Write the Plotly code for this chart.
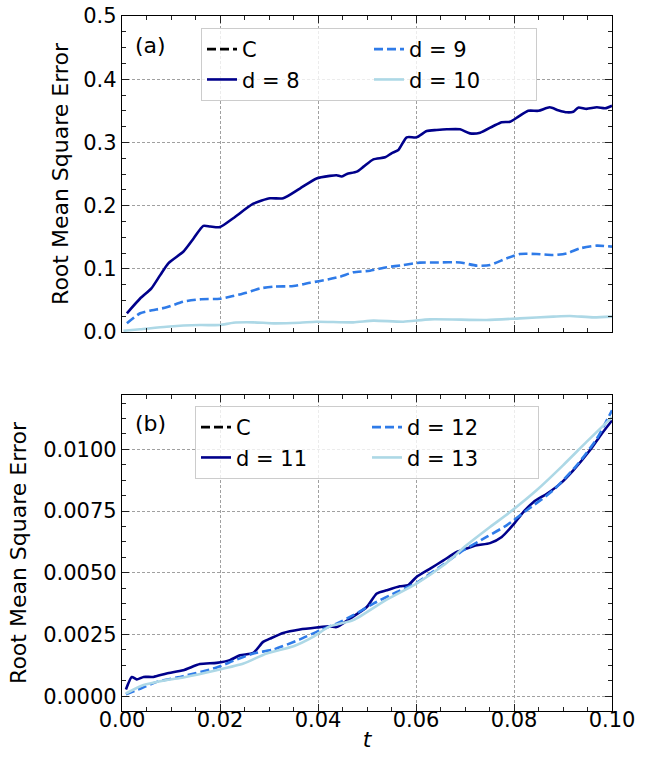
import plotly.graph_objects as go

# ---------------- data: panel (a) ----------------
t_d8 = [0.001, 0.0037, 0.006, 0.0078, 0.0095, 0.0125, 0.0146, 0.0166, 0.018, 0.020, 0.0227, 0.0268,
        0.0302, 0.0329, 0.0363, 0.0397, 0.0424, 0.0438, 0.0448, 0.0459, 0.0479, 0.0493, 0.0513, 0.0537,
        0.055, 0.0564, 0.0581, 0.0601, 0.0622, 0.0642, 0.0663, 0.069, 0.071, 0.0731, 0.0758, 0.0775,
        0.0792, 0.0809, 0.0829, 0.085, 0.0873, 0.089, 0.0908, 0.0921, 0.0931, 0.0948, 0.0969, 0.0986, 0.1]
y_d8 = [0.0296, 0.053, 0.069, 0.090, 0.109, 0.127, 0.148, 0.168, 0.167, 0.166, 0.180, 0.203,
        0.2115, 0.2115, 0.227, 0.243, 0.247, 0.248, 0.246, 0.250, 0.2537, 0.2616, 0.2732, 0.2764,
        0.2827, 0.288, 0.308, 0.308, 0.318, 0.3196, 0.3207, 0.3207, 0.3143, 0.3154, 0.326, 0.332,
        0.3328, 0.3407, 0.350, 0.350, 0.3555, 0.351, 0.3476, 0.3486, 0.355, 0.353, 0.3555, 0.354, 0.358]

t_d9 = [0.001, 0.0037, 0.0057, 0.0091, 0.0125, 0.0159, 0.020, 0.0227, 0.0254, 0.0282, 0.0309, 0.035,
        0.0384, 0.0420, 0.0445, 0.0472, 0.0506, 0.054, 0.0574, 0.0608, 0.0642, 0.069, 0.0724, 0.0751,
        0.0785, 0.0812, 0.0846, 0.088, 0.0908, 0.0935, 0.0969, 0.1]
y_d9 = [0.0138, 0.0296, 0.0337, 0.039, 0.048, 0.0517, 0.0527, 0.057, 0.0622, 0.069, 0.0717, 0.0728,
        0.078, 0.083, 0.0875, 0.0945, 0.097, 0.1024, 0.106, 0.1097, 0.110, 0.110, 0.105, 0.106,
        0.1166, 0.1234, 0.1234, 0.1218, 0.1245, 0.1324, 0.1366, 0.135]

t_d10 = [0.0003, 0.0037, 0.0091, 0.0159, 0.020, 0.0227, 0.0268, 0.0309, 0.0363, 0.0397, 0.0472, 0.0513,
         0.0574, 0.0629, 0.0744, 0.0812, 0.088, 0.0914, 0.0962, 0.1]
y_d10 = [0.002, 0.0043, 0.0084, 0.011, 0.011, 0.0147, 0.0153, 0.0137, 0.0147, 0.0163, 0.0153, 0.018,
         0.0163, 0.020, 0.019, 0.0216, 0.0243, 0.0253, 0.0232, 0.0243]

# ---------------- data: panel (b) ----------------
t_d11 = [0.0008, 0.002, 0.003, 0.0044, 0.0064, 0.0091, 0.0125, 0.0159, 0.0193, 0.022, 0.0241, 0.0268,
         0.0288, 0.0302, 0.0329, 0.0363, 0.0397, 0.0424, 0.0438, 0.0465, 0.0499, 0.052, 0.054, 0.0567,
         0.0584, 0.0601, 0.0629, 0.0656, 0.0683, 0.0703, 0.0724, 0.0751, 0.0775, 0.0799, 0.0819, 0.084,
         0.0867, 0.0894, 0.0921, 0.0955, 0.0979, 0.1]
y_d11 = [0.00027, 0.00078, 0.00068, 0.00078, 0.00078, 0.00092, 0.00105, 0.0013, 0.00135, 0.00146, 0.00166, 0.00175,
         0.0022, 0.00233, 0.00256, 0.0027, 0.00278, 0.00283, 0.0028, 0.00314, 0.0036, 0.00416, 0.00429, 0.00445,
         0.0045, 0.00483, 0.00517, 0.0055, 0.00584, 0.00598, 0.00611, 0.0062, 0.00645, 0.00696, 0.00746, 0.00787,
         0.0082, 0.0086, 0.00915, 0.00996, 0.01063, 0.01117]

t_d12 = [0.0008, 0.0037, 0.0071, 0.0125, 0.0193, 0.0227, 0.0268, 0.0309, 0.0363, 0.0404, 0.0438, 0.0472,
         0.0513, 0.0561, 0.0601, 0.0649, 0.0697, 0.0744, 0.0785, 0.0826, 0.088, 0.0928, 0.0969, 0.1]
y_d12 = [0.00008, 0.0003, 0.00058, 0.00081, 0.00116, 0.00143, 0.00173, 0.00189, 0.0023, 0.00267, 0.00294, 0.00328,
         0.00375, 0.00422, 0.00459, 0.00524, 0.00591, 0.00645, 0.00692, 0.00753, 0.00834, 0.00935, 0.01043, 0.01158]

t_d13 = [0.0008, 0.0044, 0.0091, 0.0125, 0.0193, 0.0248, 0.0295, 0.035, 0.039, 0.0424, 0.0472, 0.054,
         0.0601, 0.0656, 0.0703, 0.0751, 0.0792, 0.0846, 0.09, 0.0948, 0.1]
y_d13 = [0.00011, 0.00045, 0.00065, 0.00076, 0.00105, 0.00132, 0.00173, 0.00202, 0.0024, 0.00283, 0.00308, 0.00391,
         0.00456, 0.0053, 0.00611, 0.00685, 0.00746, 0.00834, 0.00935, 0.0103, 0.0113]

# the "C" series appears only in the legends (no visible curve in the picture)
t_C = [None]
y_C = [None]

top_names = ["C", "d = 8", "d = 9", "d = 10"]
bot_names = ["C", "d = 11", "d = 12", "d = 13"]

NAVY = "#00008B"
BLUE = "#2F7BE8"
LIGHT = "#ADD8E6"
FONT = "DejaVu Sans"
DASH = "9px,4px"

fig = go.Figure()

def add(xs, ys, name, color, dash, xa, ya, leg, rank):
    fig.add_trace(go.Scatter(
        x=xs, y=ys, name=name, mode="lines", xaxis=xa, yaxis=ya, legend=leg, legendrank=rank,
        line=dict(color=color, width=2.6, dash=dash, shape="spline", smoothing=0.6),
    ))

# panel (a)
add(t_C, y_C, top_names[0], "black", DASH, "x", "y", "legend", 1)
add(t_d8, y_d8, top_names[1], NAVY, "solid", "x", "y", "legend", 3)
add(t_d9, y_d9, top_names[2], BLUE, DASH, "x", "y", "legend", 2)
add(t_d10, y_d10, top_names[3], LIGHT, "solid", "x", "y", "legend", 4)
# panel (b)
add(t_C, y_C, bot_names[0], "black", DASH, "x2", "y2", "legend2", 1)
add(t_d11, y_d11, bot_names[1], NAVY, "solid", "x2", "y2", "legend2", 3)
add(t_d12, y_d12, bot_names[2], BLUE, DASH, "x2", "y2", "legend2", 2)
add(t_d13, y_d13, bot_names[3], LIGHT, "solid", "x2", "y2", "legend2", 4)

H = 758
mt, mb = 16, 47
ph = H - mt - mb
top_dom = [(711 - 332) / ph, 1.0]
bot_dom = [0.0, (711 - 395) / ph]

common_axis = dict(
    showline=True, linecolor="black", linewidth=1.3, mirror="ticks",
    ticks="inside", ticklen=7, tickwidth=1.2, tickcolor="#222",
    showgrid=True, gridcolor="#a0a0a0", gridwidth=1, griddash="3px,2px",
    zeroline=False, automargin=False, tickfont=dict(family=FONT, size=21, color="black"),
)

xaxis_common = dict(common_axis, range=[0, 0.1], tick0=0, dtick=0.02,
                    minor=dict(dtick=0.005, ticks="inside", ticklen=4, tickwidth=1, tickcolor="#222", showgrid=False))

fig.update_layout(
    width=651, height=758,
    margin=dict(l=122, r=39, t=mt, b=mb, autoexpand=False),
    paper_bgcolor="white", plot_bgcolor="white",
    font=dict(family=FONT, size=21, color="black"),
    showlegend=True,
    xaxis=dict(xaxis_common, anchor="y", showticklabels=False, domain=[0, 1]),
    yaxis=dict(common_axis, anchor="x", domain=top_dom, range=[0, 0.5], tick0=0, dtick=0.1,
               tickformat=".1f",
               minor=dict(dtick=0.025, ticks="inside", ticklen=4, tickwidth=1, tickcolor="#222", showgrid=False),
               title=dict(text="Root Mean Square Error", font=dict(family=FONT, size=22), standoff=8)),
    xaxis2=dict(xaxis_common, anchor="y2", tickformat=".2f", domain=[0, 1], ticklabelstandoff=-10,
                title=dict(text="<i>t</i>", font=dict(family=FONT, size=22), standoff=0)),
    yaxis2=dict(common_axis, anchor="x2", domain=bot_dom, range=[-0.0006, 0.0122], tick0=0, dtick=0.0025,
                tickformat=".4f",
                minor=dict(dtick=0.000625, ticks="inside", ticklen=4, tickwidth=1, tickcolor="#222", showgrid=False),
                title=dict(text="Root Mean Square Error", font=dict(family=FONT, size=22), standoff=10)),
    legend=dict(orientation="h", x=(201 - 122) / 490, y=(711 - 28) / ph, xanchor="left", yanchor="top",
                entrywidth=122, bgcolor="rgba(255,255,255,0.8)", bordercolor="#cccccc", borderwidth=1,
                font=dict(family=FONT, size=21), traceorder="normal"),
    legend2=dict(orientation="h", x=(195 - 122) / 490, y=(711 - 406) / ph, xanchor="left", yanchor="top",
                 entrywidth=126, bgcolor="rgba(255,255,255,0.8)", bordercolor="#cccccc", borderwidth=1,
                 font=dict(family=FONT, size=21), traceorder="normal"),
    annotations=[
        dict(text="(a)", xref="x domain", yref="y domain", x=0.022, y=0.908, xanchor="left", yanchor="middle",
             showarrow=False, font=dict(family=FONT, size=22)),
        dict(text="(b)", xref="x2 domain", yref="y2 domain", x=0.022, y=0.911, xanchor="left", yanchor="middle",
             showarrow=False, font=dict(family=FONT, size=22)),
    ],
)

fig.write_html("out.html")
